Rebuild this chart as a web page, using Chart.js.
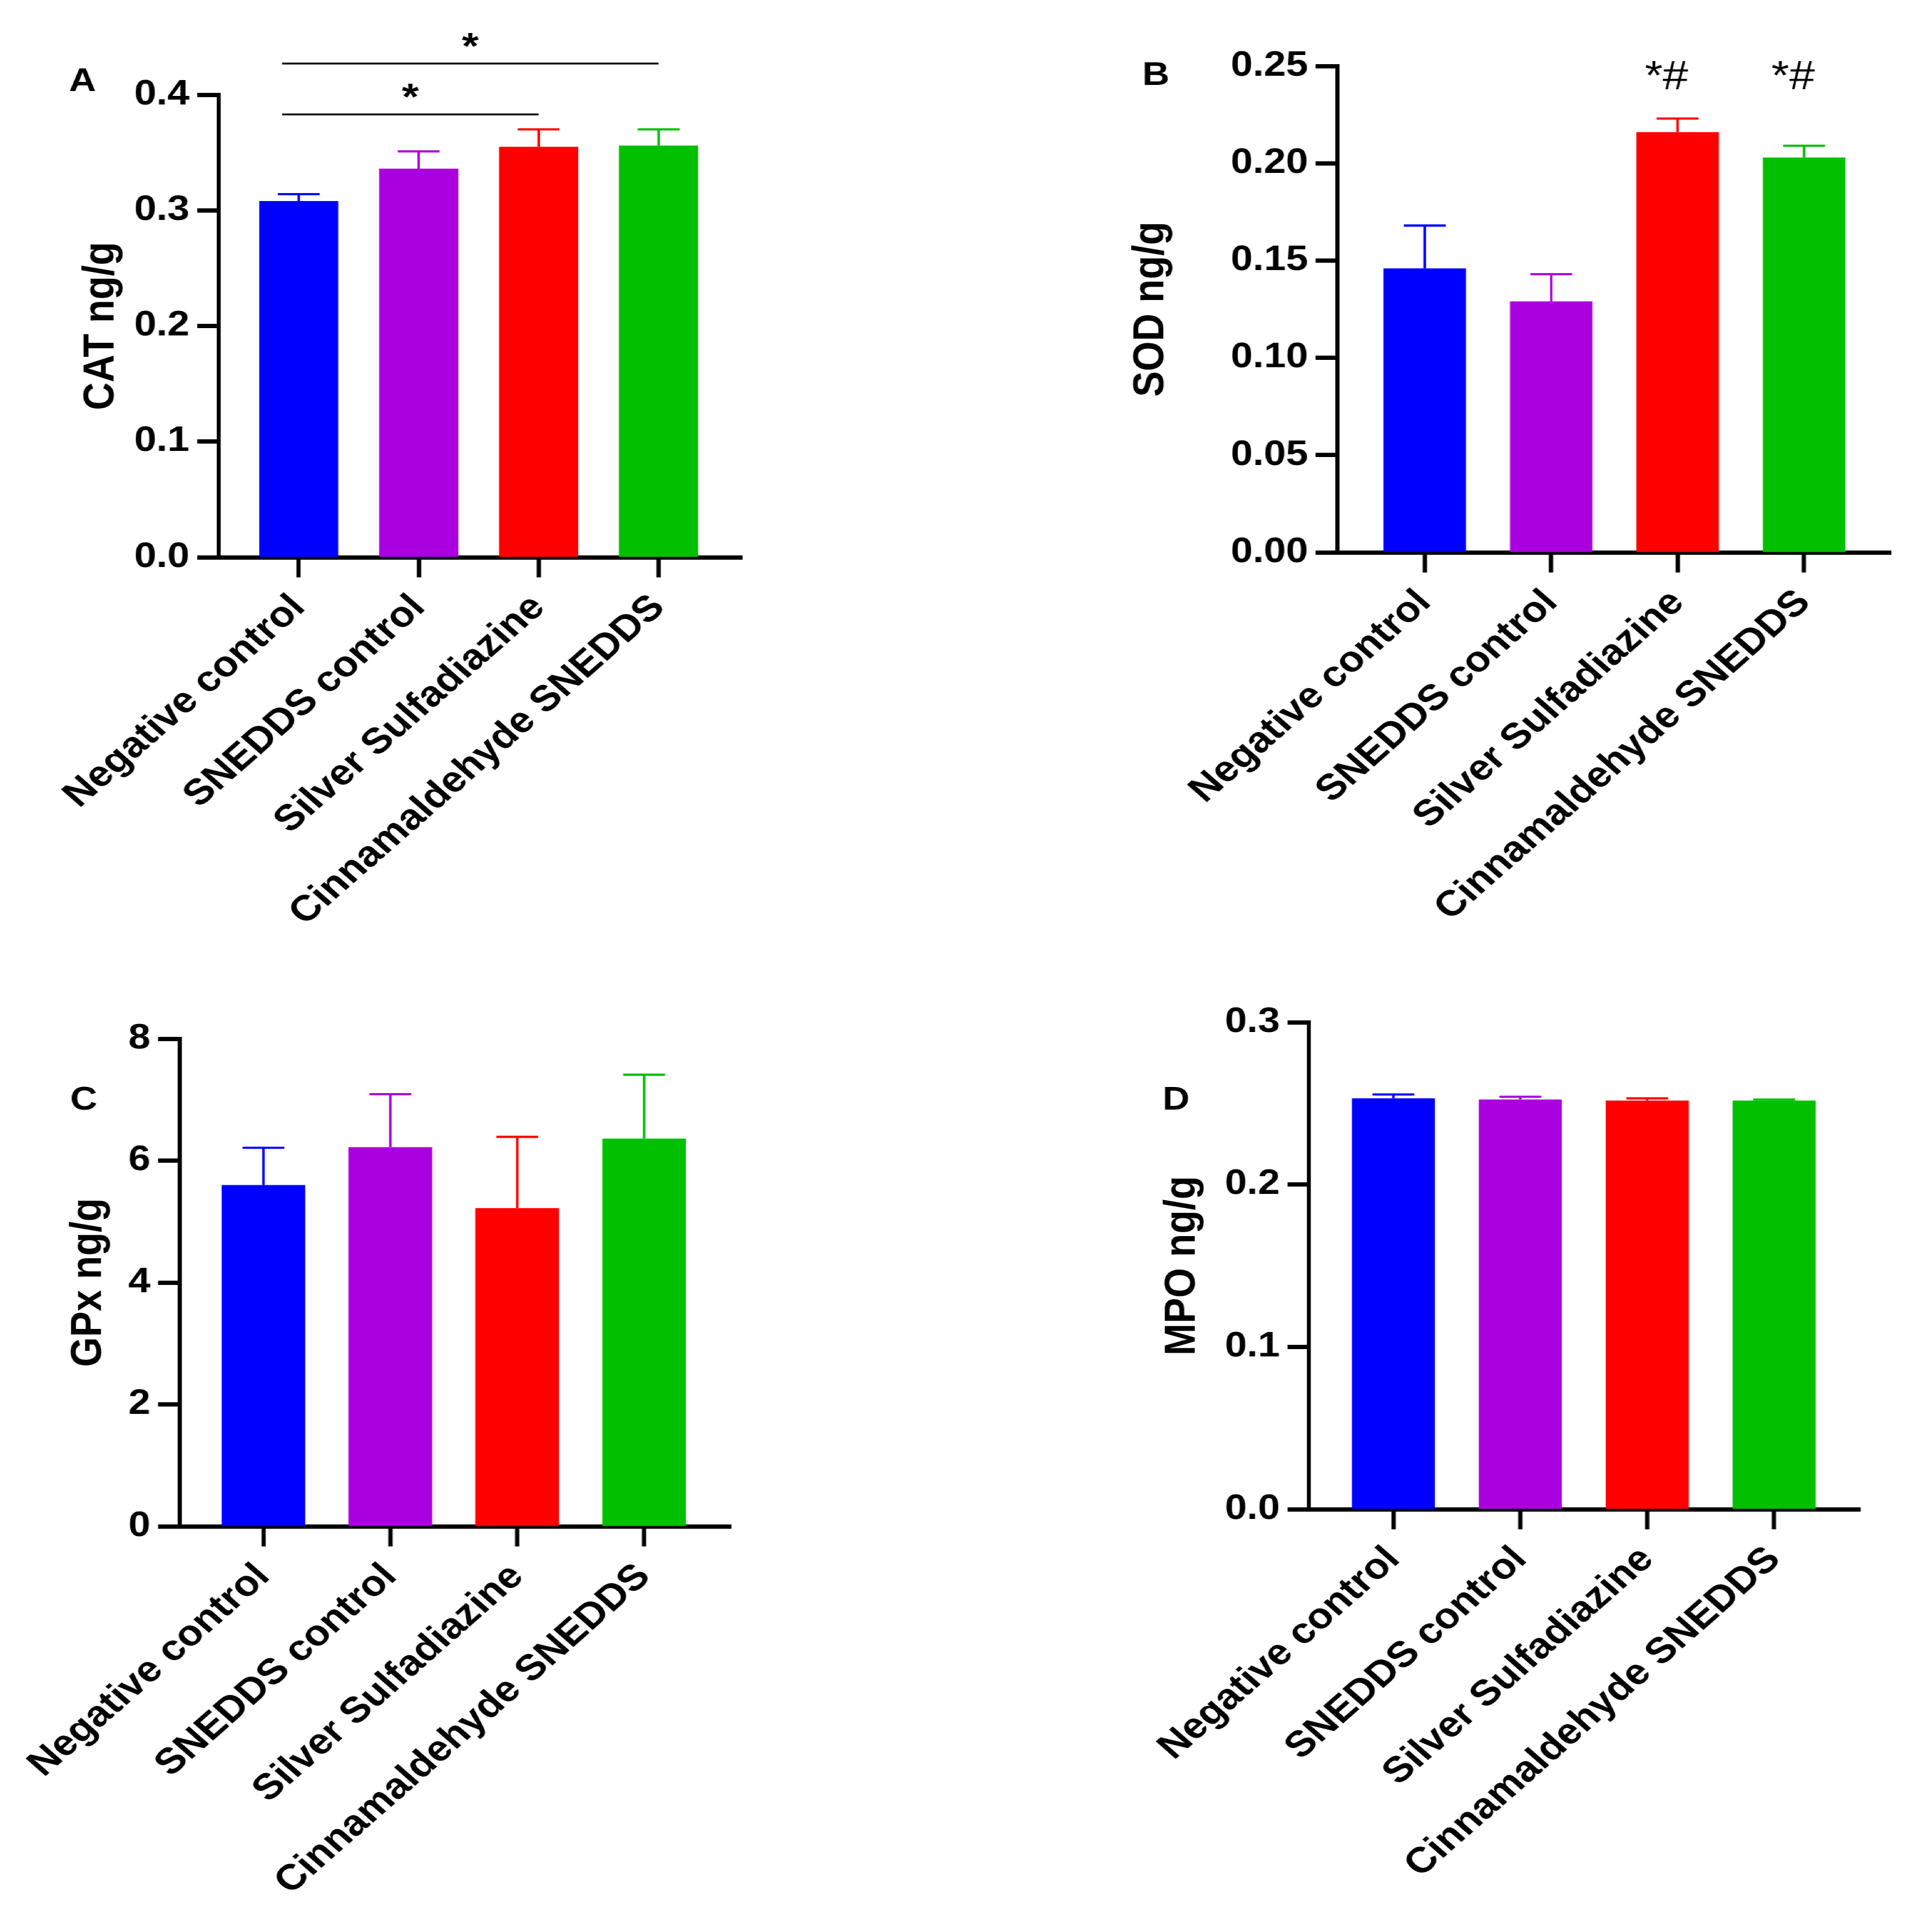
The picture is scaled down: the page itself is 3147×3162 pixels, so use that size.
<!DOCTYPE html>
<html>
<head>
<meta charset="utf-8">
<script src="https://cdn.jsdelivr.net/npm/chart.js@4.4.1/dist/chart.umd.min.js"></script>
<style>
  html, body { margin: 0; padding: 0; background: #fff; }
  body { width: 3147px; height: 3162px; overflow: hidden; position: relative; }
  /* the source figure is stretched sideways, so draw narrow and scale the whole sheet */
  #sheet { position: absolute; left: 0; top: 0; height: 3162px; transform-origin: 0 0; }
  #sheet canvas { position: absolute; }
</style>
</head>
<body>
<div id="sheet">
  <canvas id="panelA"></canvas>
  <canvas id="panelB"></canvas>
  <canvas id="panelC"></canvas>
  <canvas id="panelD"></canvas>
</div>
<script>
// horizontal stretch of the original figure
const K = 1.14;

const groups = ['Negative control', 'SNEDDS control', 'Silver Sulfadiazine', 'Cinnamaldehyde SNEDDS'];
const barColors = ['#0000ff', '#aa00e0', '#ff0000', '#00c000'];

// A - CAT
const catMean = [0.308, 0.336, 0.355, 0.356];
const catSem = [0.006, 0.015, 0.015, 0.014];
const catTicks = [0, 0.1, 0.2, 0.3, 0.4];
const catPairs = [[0, 3], [0, 2]];
const catPairText = ['*', '*'];

// B - SOD
const sodMean = [0.146, 0.129, 0.216, 0.203];
const sodSem = [0.022, 0.014, 0.007, 0.006];
const sodTicks = [0, 0.05, 0.10, 0.15, 0.20, 0.25];
const sodMarks = ['', '', '*#', '*#'];

// C - GPx
const gpxMean = [5.60, 6.22, 5.22, 6.36];
const gpxSem = [0.61, 0.87, 1.17, 1.05];
const gpxTicks = [0, 2, 4, 6, 8];

// D - MPO
const mpoMean = [0.2531, 0.2524, 0.2517, 0.2517];
const mpoSem = [0.0024, 0.0017, 0.0014, 0.0007];
const mpoTicks = [0, 0.1, 0.2, 0.3];

const FONT = "'Liberation Sans', Arial, Helvetica, sans-serif";
const TITLE_SIZE = 63;
Chart.defaults.font.family = FONT;
Chart.defaults.color = '#000';

// layout in pixels of the source picture
const panels = [
  { id: 'panelA', letter: 'A', title: 'CAT ng/g', mean: catMean, sem: catSem, ticks: catTicks, dec: 1,
    box: { x: 0, y: 0, w: 1575, h: 1581 }, area: { left: 358, right: 1215, top: 155, bottom: 912 },
    titleX: 166, letterAt: [135, 134], xMin: -0.667, xMax: 3.699, barPct: 0.66,
    pairs: catPairs, pairText: catPairText, pairLevels: [0.427, 0.383] },
  { id: 'panelB', letter: 'B', title: 'SOD ng/g', mean: sodMean, sem: sodSem, ticks: sodTicks, dec: 2,
    box: { x: 1575, y: 0, w: 1572, h: 1581 }, area: { left: 2188, right: 3094, top: 108, bottom: 904 },
    titleX: 1884, letterAt: [1891, 124], xMin: -0.691, xMax: 3.686, barPct: 0.652,
    marks: sodMarks, markLevel: 0.238 },
  { id: 'panelC', letter: 'C', title: 'GPx ng/g', mean: gpxMean, sem: gpxSem, ticks: gpxTicks, dec: 0,
    box: { x: 0, y: 1581, w: 1575, h: 1581 }, area: { left: 294, right: 1196, top: 1700, bottom: 2498 },
    titleX: 145, letterAt: [137, 1801], xMin: -0.66, xMax: 3.683, barPct: 0.66 },
  { id: 'panelD', letter: 'D', title: 'MPO ng/g', mean: mpoMean, sem: mpoSem, ticks: mpoTicks, dec: 1,
    box: { x: 1575, y: 1581, w: 1572, h: 1581 }, area: { left: 2142, right: 3044, top: 1673, bottom: 2470 },
    titleX: 1935, letterAt: [1924, 1801], xMin: -0.664, xMax: 3.679, barPct: 0.655 }
];

// upper error bars, Prism style
const errorBars = {
  id: 'errorBars',
  afterDatasetsDraw(chart) {
    const ctx = chart.ctx;
    const yScale = chart.scales.y;
    chart.data.datasets.forEach((ds, di) => {
      chart.getDatasetMeta(di).data.forEach((bar, i) => {
        const top = yScale.getPixelForValue(ds.data[i].y + ds.errors[i]);
        ctx.save();
        ctx.strokeStyle = barColors[i];
        ctx.lineWidth = 3.6;
        ctx.beginPath();
        ctx.moveTo(bar.x, bar.y);
        ctx.lineTo(bar.x, top);
        ctx.moveTo(bar.x - 30, top);
        ctx.lineTo(bar.x + 30, top);
        ctx.stroke();
        ctx.restore();
      });
    });
  }
};

// panel letter, significance brackets and marks
const panelMarks = {
  id: 'panelMarks',
  afterDraw(chart, args, opts) {
    const ctx = chart.ctx;
    const x = chart.scales.x, y = chart.scales.y;
    ctx.save();
    ctx.fillStyle = '#000';
    ctx.strokeStyle = '#000';
    ctx.font = 'bold 54px ' + FONT;
    ctx.textAlign = 'center';
    ctx.textBaseline = 'middle';
    ctx.fillText(opts.letter, opts.letterX, opts.letterY);

    if (opts.pairs) {
      ctx.lineWidth = 3;
      ctx.font = 'bold 62px ' + FONT;
      ctx.textBaseline = 'alphabetic';
      opts.pairs.forEach((pair, k) => {
        const ly = y.getPixelForValue(opts.pairLevels[k]);
        const x1 = x.getPixelForValue(pair[0]) - 24;
        const x2 = x.getPixelForValue(pair[1]);
        ctx.beginPath();
        ctx.moveTo(x1, ly);
        ctx.lineTo(x2, ly);
        ctx.stroke();
        ctx.fillText(opts.pairText[k], (x1 + x2) / 2, ly - 8);
      });
    }
    if (opts.marks) {
      ctx.font = '66px ' + FONT;
      ctx.textBaseline = 'alphabetic';
      opts.marks.forEach((m, i) => {
        if (!m) return;
        ctx.fillText(m, x.getPixelForValue(i) - 16, y.getPixelForValue(opts.markLevel));
      });
    }
    ctx.restore();
  }
};

function buildPanel(p) {
  const canvas = document.getElementById(p.id);
  const cw = Math.round(p.box.w / K), ch = p.box.h;
  canvas.width = cw;
  canvas.height = ch;
  canvas.style.left = (p.box.x / K) + 'px';
  canvas.style.top = p.box.y + 'px';
  canvas.style.width = cw + 'px';
  canvas.style.height = ch + 'px';

  const left = (p.area.left - p.box.x) / K;
  const right = (p.area.right - p.box.x) / K;
  const top = p.area.top - p.box.y;
  const bottom = p.area.bottom - p.box.y;
  const padLeft = (p.titleX - p.box.x) / K - TITLE_SIZE / 2;

  new Chart(canvas, {
    type: 'bar',
    data: {
      datasets: [{
        data: p.mean.map((v, i) => ({ x: i, y: v })),
        errors: p.sem,
        backgroundColor: barColors,
        borderWidth: 0,
        categoryPercentage: 1,
        barPercentage: p.barPct
      }]
    },
    options: {
      responsive: false,
      animation: false,
      devicePixelRatio: 1,
      layout: { padding: { left: padLeft, right: cw - right, top: top, bottom: 0 } },
      plugins: {
        legend: { display: false },
        tooltip: { enabled: false },
        panelMarks: {
          letter: p.letter,
          letterX: (p.letterAt[0] - p.box.x) / K,
          letterY: p.letterAt[1] - p.box.y,
          pairs: p.pairs, pairText: p.pairText, pairLevels: p.pairLevels,
          marks: p.marks, markLevel: p.markLevel
        }
      },
      scales: {
        x: {
          type: 'linear',
          offset: false,
          min: p.xMin,
          max: p.xMax,
          afterBuildTicks: axis => { axis.ticks = groups.map((g, i) => ({ value: i })); },
          afterFit: axis => { axis.height = ch - bottom; axis.paddingLeft = 0; axis.paddingRight = 0; },
          ticks: {
            autoSkip: false,
            minRotation: 45,
            maxRotation: 45,
            padding: 15,
            color: '#000',
            font: { size: 59, weight: 'bold' },
            callback: v => groups[v]
          },
          grid: { display: true, offset: false, drawOnChartArea: false, tickLength: 33, tickWidth: 6.2, tickColor: '#000' },
          border: { display: true, color: '#000', width: 7 }
        },
        y: {
          min: 0,
          max: p.ticks[p.ticks.length - 1],
          afterBuildTicks: axis => { axis.ticks = p.ticks.map(v => ({ value: v })); },
          afterFit: axis => { axis.width = left - padLeft; axis.paddingTop = 0; axis.paddingBottom = 0; },
          ticks: {
            padding: 11,
            color: '#000',
            font: { size: 57, weight: 'bold' },
            callback: v => v.toFixed(p.dec)
          },
          grid: { display: true, drawOnChartArea: false, tickLength: 31, tickWidth: 7, tickColor: '#000' },
          border: { display: true, color: '#000', width: 5.9 },
          title: {
            display: true,
            text: p.title,
            color: '#000',
            padding: 0,
            font: { size: TITLE_SIZE, weight: 'bold', lineHeight: 1 }
          }
        }
      }
    },
    plugins: [errorBars, panelMarks]
  });
}

const sheet = document.getElementById('sheet');
sheet.style.width = (3147 / K) + 'px';
sheet.style.transform = 'scaleX(' + K + ')';
panels.forEach(buildPanel);
</script>
</body>
</html>
